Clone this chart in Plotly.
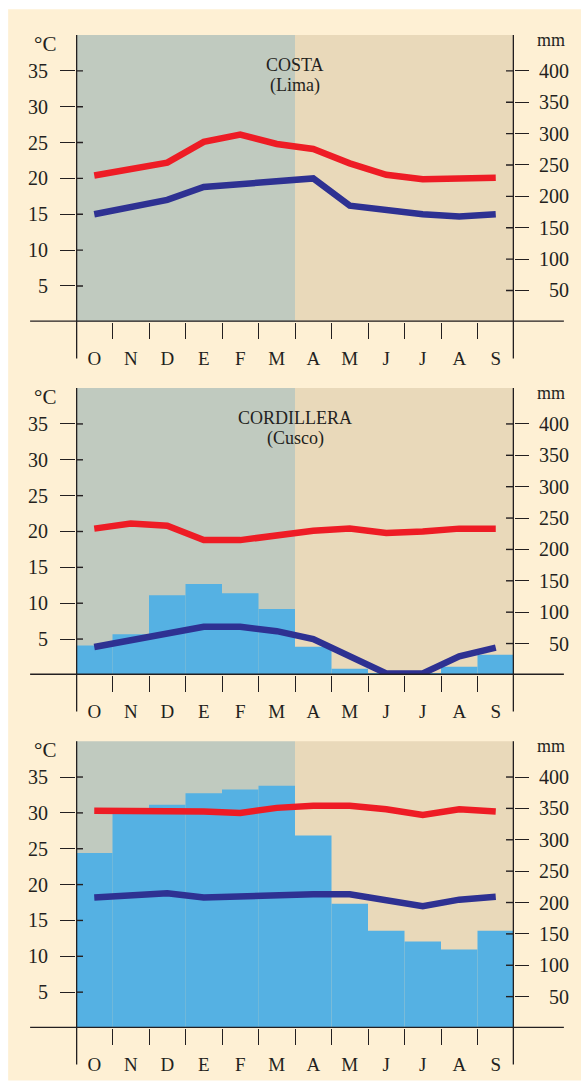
import plotly.graph_objects as go

# ---------------- data ----------------
months = ["O", "N", "D", "E", "F", "M", "A", "M", "J", "J", "A", "S"]

temp_ticks = [5, 10, 15, 20, 25, 30, 35]
mm_ticks = [50, 100, 150, 200, 250, 300, 350, 400]

costa_title = "COSTA"
costa_sub = "(Lima)"
costa_max = [20.4, 21.2, 22.2, 25.1, 26.1, 24.8, 24.1, 22.1, 20.5, 19.9, 19.9, 20.1]
costa_min = [15.0, 16.0, 17.0, 18.8, 19.2, 19.7, 20.0, 16.2, 15.6, 15.0, 14.7, 15.0]
costa_prec = None

cusco_title = "CORDILLERA"
cusco_sub = "(Cusco)"
cusco_max = [20.4, 21.1, 20.8, 18.8, 18.8, 19.4, 20.1, 20.4, 19.8, 20.0, 20.4, 20.4]
cusco_min = [3.9, 4.9, 5.8, 6.7, 6.7, 6.1, 5.0, 2.6, 0.2, 0.2, 2.6, 3.8]
cusco_prec = [47, 65, 127, 145, 130, 105, 45, 10, 3, 2, 13, 32]

selva_title = None
selva_sub = None
selva_max = [30.3, 30.3, 30.2, 30.2, 30.0, 30.7, 31.0, 31.0, 30.5, 29.7, 30.5, 30.2]
selva_min = [18.2, 18.6, 18.8, 18.2, 18.4, 18.65, 18.65, 18.65, 17.9, 17.0, 17.9, 18.3]
selva_prec = [279, 345, 356, 374, 380, 386, 307, 198, 155, 138, 125, 155]

# ---------------- styling ----------------
W, H = 581, 1087
ML, MR, MT, MB = 76, 66, 35, 48
PW = W - ML - MR          # 439
PH_TOTAL = H - MT - MB    # 1004

CREAM = "#FEF0D4"
GREEN = "#C0CABF"
TAN = "#E9D9BA"
BLUE_BAR = "#55B1E3"
RED = "#EE1C25"
NAVY = "#2E3192"
INK = "#231F20"
FONT = "Liberation Serif"

panels = [
    dict(tmax=costa_max, tmin=costa_min, prec=costa_prec, title=costa_title, sub=costa_sub, top=35, bottom=325),
    dict(tmax=cusco_max, tmin=cusco_min, prec=cusco_prec, title=cusco_title, sub=cusco_sub, top=392, bottom=682),
    dict(tmax=selva_max, tmin=selva_min, prec=selva_prec, title=selva_title, sub=selva_sub, top=749, bottom=1039),
]

T_MAX = 40
MM_MAX = 400 * T_MAX / 35

centers = [i + 0.5 for i in range(len(months))]
bounds = list(range(1, len(months)))

fig = go.Figure()
shapes = []
annotations = []
layout = {}

# cream page with thin white border
shapes.append(dict(type="rect", xref="paper", yref="paper", layer="below",
                   x0=(8 - ML) / PW, x1=(W + 5 - ML) / PW,
                   y0=(H - MB - (H + 5)) / PH_TOTAL, y1=(H - MB - 9) / PH_TOTAL,
                   fillcolor=CREAM, line=dict(width=0)))

for i, p in enumerate(panels, start=1):
    xa = "x" if i == 1 else f"x{i}"
    ya_m = "y" if i == 1 else f"y{2 * i - 1}"   # base axis: precipitation (right)
    ya_t = f"y{2 * i}"                           # overlay axis: temperature (left)
    xkey = "xaxis" if i == 1 else f"xaxis{i}"
    ykey_m = "yaxis" if i == 1 else f"yaxis{2 * i - 1}"
    ykey_t = f"yaxis{2 * i}"
    ph = p["bottom"] - p["top"]
    dom = [(H - MB - p["bottom"]) / PH_TOTAL, (H - MB - p["top"]) / PH_TOTAL]

    layout[xkey] = dict(domain=[0, 1], range=[0, 12], anchor=ya_m, fixedrange=True,
                        showgrid=False, zeroline=False, showline=False,
                        tickmode="array", tickvals=centers, ticktext=months,
                        ticks="outside", ticklen=19, tickcolor="rgba(0,0,0,0)",
                        tickfont=dict(family=FONT, size=19, color=INK),
                        minor=dict(tickmode="array", tickvals=bounds, ticks="outside",
                                   ticklen=16, tickwidth=1.4, tickcolor=INK, showgrid=False))
    layout[ykey_m] = dict(domain=dom, range=[0, MM_MAX], side="right", anchor=xa,
                          fixedrange=True, showgrid=False, zeroline=False, showline=False,
                          tickmode="array", tickvals=mm_ticks,
                          ticktext=[("\u2007" if v < 100 else "") + str(v) for v in mm_ticks],
                          ticks="outside", ticklen=14, tickwidth=1.4, tickcolor=INK,
                          ticklabelstandoff=6,
                          tickfont=dict(family=FONT, size=20, color=INK))
    layout[ykey_t] = dict(range=[0, T_MAX], overlaying=ya_m, side="left", anchor=xa,
                          fixedrange=True, showgrid=False, zeroline=False, showline=False,
                          tickmode="array", tickvals=temp_ticks,
                          ticks="outside", ticklen=15, tickwidth=1.4, tickcolor=INK,
                          ticklabelstandoff=8,
                          tickfont=dict(family=FONT, size=20, color=INK))

    # background seasons
    shapes.append(dict(type="rect", xref=xa, yref=f"{ya_m} domain", layer="below",
                       x0=0, x1=6, y0=0, y1=1, fillcolor=GREEN, line=dict(width=0)))
    shapes.append(dict(type="rect", xref=xa, yref=f"{ya_m} domain", layer="below",
                       x0=6, x1=12, y0=0, y1=1, fillcolor=TAN, line=dict(width=0)))

    # precipitation bars (base axis, drawn underneath)
    if p["prec"] is not None:
        fig.add_trace(go.Bar(x=centers, y=p["prec"], width=1, xaxis=xa, yaxis=ya_m,
                             marker=dict(color=BLUE_BAR, line=dict(width=0)),
                             hoverinfo="skip", showlegend=False))
    # temperature lines (overlay axis, drawn on top)
    fig.add_trace(go.Scatter(x=centers, y=p["tmax"], mode="lines", xaxis=xa, yaxis=ya_t,
                             line=dict(color=RED, width=6.5), hoverinfo="skip", showlegend=False))
    fig.add_trace(go.Scatter(x=centers, y=p["tmin"], mode="lines", xaxis=xa, yaxis=ya_t,
                             line=dict(color=NAVY, width=6.5), hoverinfo="skip", showlegend=False))

    # axis frame lines
    ext = 37 / ph
    for xv in (0, 12):
        shapes.append(dict(type="line", xref=xa, yref=f"{ya_m} domain",
                           x0=xv, x1=xv, y0=-ext, y1=1, line=dict(color=INK, width=2.6)))
    shapes.append(dict(type="line", xref=f"{xa} domain", yref=ya_t,
                       x0=(30 - ML) / PW, x1=(565 - ML) / PW, y0=0, y1=0,
                       line=dict(color=INK, width=2.6)))
    # inner tick stubs
    for v in temp_ticks:
        shapes.append(dict(type="line", xref=f"{xa} domain", yref=ya_t,
                           x0=0, x1=7 / PW, y0=v, y1=v, line=dict(color=INK, width=1.4)))
    for v in mm_ticks:
        shapes.append(dict(type="line", xref=f"{xa} domain", yref=ya_m,
                           x0=1 - 8 / PW, x1=1, y0=v, y1=v, line=dict(color=INK, width=1.4)))

    # unit labels
    annotations.append(dict(text="°C", xref=f"{xa} domain", yref=f"{ya_m} domain",
                            x=(44.5 - ML) / PW, y=1, xanchor="center", yanchor="top",
                            yshift=5, showarrow=False,
                            font=dict(family=FONT, size=21, color=INK)))
    annotations.append(dict(text="mm", xref=f"{xa} domain", yref=f"{ya_m} domain",
                            x=(552 - ML) / PW, y=1, xanchor="center", yanchor="top",
                            yshift=7, showarrow=False,
                            font=dict(family=FONT, size=18, color=INK)))
    if p["title"]:
        annotations.append(dict(text=p["title"], xref=xa, yref=f"{ya_m} domain",
                                x=6, y=1 - 30 / ph, xanchor="center", yanchor="middle",
                                showarrow=False, font=dict(family=FONT, size=18, color=INK)))
        annotations.append(dict(text=p["sub"], xref=xa, yref=f"{ya_m} domain",
                                x=6, y=1 - 51 / ph, xanchor="center", yanchor="middle",
                                showarrow=False, font=dict(family=FONT, size=18, color=INK)))

fig.update_layout(
    width=W, height=H, autosize=False,
    margin=dict(l=ML, r=MR, t=MT, b=MB, pad=0),
    paper_bgcolor="white", plot_bgcolor="rgba(0,0,0,0)",
    shapes=shapes, annotations=annotations, showlegend=False,
    barmode="overlay",
    **layout,
)

fig.write_html(
    "out.html",
    config={"displayModeBar": False},
    post_script="document.body.style.margin='0';document.documentElement.style.overflow='hidden';",
)
